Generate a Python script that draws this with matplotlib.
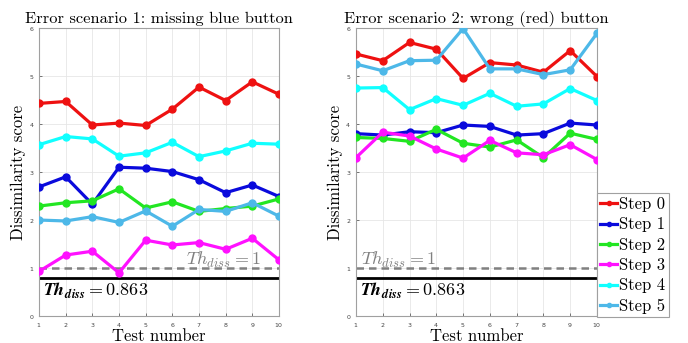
import matplotlib.pyplot as plt
import numpy as np

tests = np.arange(1, 11)
step_labels = ["Step 0", "Step 1", "Step 2", "Step 3", "Step 4", "Step 5"]
step_colors = ["#ee1111", "#0a0adc", "#22e622", "#ff11ff", "#11ffff", "#4db8e8"]

# scenario 1: missing blue button
s1_step0 = [4.43, 4.47, 3.98, 4.02, 3.97, 4.31, 4.77, 4.49, 4.88, 4.62]
s1_step1 = [2.69, 2.90, 2.33, 3.10, 3.08, 3.01, 2.84, 2.57, 2.73, 2.49]
s1_step2 = [2.29, 2.36, 2.40, 2.65, 2.25, 2.38, 2.18, 2.24, 2.29, 2.44]
s1_step3 = [0.93, 1.27, 1.35, 0.90, 1.58, 1.48, 1.53, 1.39, 1.62, 1.17]
s1_step4 = [3.57, 3.74, 3.69, 3.33, 3.40, 3.62, 3.32, 3.44, 3.60, 3.58]
s1_step5 = [2.00, 1.98, 2.07, 1.95, 2.19, 1.87, 2.22, 2.18, 2.36, 2.08]

# scenario 2: wrong (red) button
s2_step0 = [5.46, 5.32, 5.70, 5.56, 4.95, 5.28, 5.23, 5.08, 5.53, 4.99]
s2_step1 = [3.80, 3.77, 3.84, 3.82, 3.98, 3.95, 3.77, 3.80, 4.02, 3.98]
s2_step2 = [3.72, 3.70, 3.64, 3.89, 3.60, 3.52, 3.67, 3.30, 3.81, 3.68]
s2_step3 = [3.30, 3.83, 3.75, 3.48, 3.29, 3.66, 3.40, 3.36, 3.57, 3.26]
s2_step4 = [4.75, 4.76, 4.30, 4.53, 4.39, 4.64, 4.37, 4.42, 4.74, 4.49]
s2_step5 = [5.25, 5.11, 5.32, 5.33, 5.99, 5.15, 5.15, 5.03, 5.13, 5.89]

th_default = 1.0
th_line = 0.79  # where the black threshold line is drawn
titles = ["Error scenario 1: missing blue button", "Error scenario 2: wrong (red) button"]

plt.rcParams['mathtext.fontset'] = 'cm'
plt.rcParams['axes.formatter.use_mathtext'] = True
serif = 'cmr10'

fig = plt.figure(figsize=(6.88, 3.43), dpi=100)
ax1 = fig.add_axes([0.0567, 0.0787, 0.3488, 0.8395])
ax2 = fig.add_axes([0.5174, 0.0787, 0.3503, 0.8395])

scenarios = [
    [s1_step0, s1_step1, s1_step2, s1_step3, s1_step4, s1_step5],
    [s2_step0, s2_step1, s2_step2, s2_step3, s2_step4, s2_step5],
]

handles = []
for k, ax in enumerate([ax1, ax2]):
    for vals, col, lab in zip(scenarios[k], step_colors, step_labels):
        h, = ax.plot(tests, vals, color=col, lw=2.3, marker='o', ms=5, label=lab, zorder=3)
        if k == 0:
            handles.append(h)
    ax.axhline(th_default, color='#808080', lw=1.8, ls=(0, (3, 2)), zorder=2)
    ax.axhline(th_line, color='black', lw=2.0, zorder=2)
    ax.set_xlim(1, 10)
    ax.set_ylim(0, 6)
    ax.set_xticks(tests)
    ax.set_yticks(range(0, 7))
    ax.tick_params(labelsize=4.5, colors='#444444', length=2, width=0.5, direction='in')
    ax.grid(True, color='#e6e6e6', lw=0.6)
    ax.set_axisbelow(True)
    for sp in ax.spines.values():
        sp.set_color('#a0a0a0')
        sp.set_linewidth(0.8)
    ax.set_title(titles[k], family=serif, fontsize=11.8, pad=4)
    ax.set_xlabel("Test number", family=serif, fontsize=12, labelpad=0)
    ax.set_ylabel("Dissimilarity score", family=serif, fontsize=12, labelpad=2)
    ax.text(1.15, 0.42, r'$\mathbfit{Th}_{\mathbfit{diss}}\mathbf{=0.863}$', fontsize=13, color='black')

ax1.text(9.3, 1.07, r'$Th_{diss} = 1$', fontsize=13, color='#808080', ha='right')
ax2.text(1.2, 1.07, r'$Th_{diss} = 1$', fontsize=13, color='#808080', ha='left')

leg = fig.legend(handles=handles, loc='lower left', bbox_to_anchor=(0.8677, 0.0758),
                 prop={'family': serif, 'size': 12}, fancybox=False, framealpha=1,
                 edgecolor='#a0a0a0', handlelength=1.0, handletextpad=0.15,
                 borderpad=0.2, labelspacing=0.3, borderaxespad=0, markerscale=0.6)
leg.get_frame().set_linewidth(0.8)

fig.savefig('out.png', dpi=100)
